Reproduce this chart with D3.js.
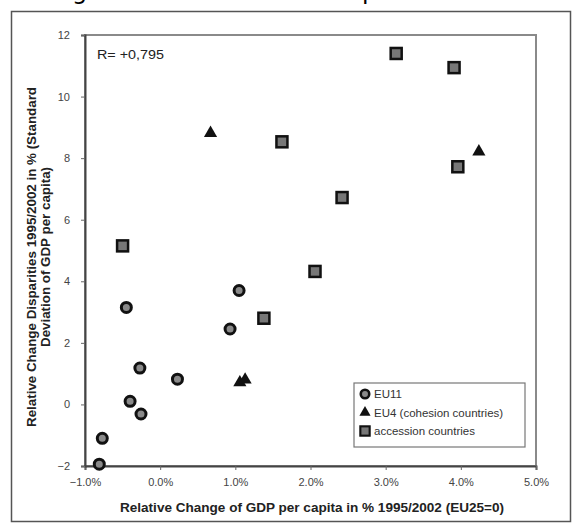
<!DOCTYPE html>
<html>
<head>
<meta charset="utf-8">
<script src="https://cdn.jsdelivr.net/npm/d3@7"></script>
<style>
  body { margin: 0; background: #fff; }
  svg { display: block; font-family: "Liberation Sans", Arial, sans-serif; }
</style>
</head>
<body>
<svg id="chart" viewBox="0 0 574 524" width="574" height="524"></svg>
<script>
// values
const eu11X = [-0.81, -0.77, -0.45, -0.40, -0.27, -0.255, 0.23, 0.93, 1.05]
const eu11Y = [-1.94, -1.10, 3.15, 0.10, 1.18, -0.31, 0.82, 2.45, 3.70]
const eu4X = [0.67, 1.06, 1.13, 4.24]
const eu4Y = [8.81, 0.71, 0.80, 8.21]
const accX = [-0.50, 1.38, 1.62, 2.06, 2.42, 3.14, 3.91, 3.96]
const accY = [5.15, 2.80, 8.53, 4.32, 6.72, 11.40, 10.94, 7.72]

const xTicks = [-1, 0, 1, 2, 3, 4, 5]
const yTicks = [-2, 0, 2, 4, 6, 8, 10, 12]
const legendLabels = ["EU11", "EU4 (cohesion countries)", "accession countries"]
const rLabel = "R= +0,795"
const xTitle = "Relative Change of GDP per capita in % 1995/2002 (EU25=0)"
const yTitle = ["Relative Change Disparities 1995/2002 in % (Standard", "Deviation of GDP per capita)"]

const svg = d3.select("#chart")

// cut-off heading above the chart (only descenders visible in the scan)
svg.append("text").attr("x", 72).attr("y", -1).attr("font-size", 24).attr("font-family", "DejaVu Sans").text("g")
svg.append("text").attr("x", 362).attr("y", -1).attr("font-size", 24).attr("font-family", "DejaVu Sans").text("p")

// outer chart frame
svg.append("rect")
    .attr("x", 11.5).attr("y", 11.5)
    .attr("width", 559).attr("height", 510)
    .attr("fill", "#fff")
    .attr("stroke", "#555")
    .attr("stroke-width", 1.5)

const x = d3.scaleLinear().domain([-1, 5]).range([85, 536])
const y = d3.scaleLinear().domain([-2, 12]).range([466, 35])

// plot area border (top/right grey)
svg.append("rect")
    .attr("x", x(-1)).attr("y", y(12))
    .attr("width", x(5) - x(-1)).attr("height", y(-2) - y(12))
    .attr("fill", "none")
    .attr("stroke", "#8a8a8a")
    .attr("stroke-width", 2)

const fmtPct = d => d3.format(".1f")(d) + "%"

const xAxis = svg.append("g")
    .attr("transform", `translate(0,${y(-2)})`)
    .call(d3.axisBottom(x).tickValues(xTicks).tickSize(4).tickPadding(8).tickFormat(fmtPct))
const yAxis = svg.append("g")
    .attr("transform", `translate(${x(-1)},0)`)
    .call(d3.axisLeft(y).tickValues(yTicks).tickSize(4).tickPadding(11).tickFormat(d3.format("d")))

for (const ax of [xAxis, yAxis]) {
    ax.select(".domain").attr("stroke", "#444").attr("stroke-width", 2)
    ax.selectAll(".tick line").attr("stroke", "#666")
    ax.selectAll(".tick text").attr("font-size", 11).attr("fill", "#444")
        .attr("font-family", "Liberation Sans, Arial, sans-serif")
}

// axis titles
svg.append("text")
    .attr("x", 312).attr("y", 512)
    .attr("text-anchor", "middle")
    .attr("font-size", 12).attr("font-weight", "bold").attr("fill", "#222")
    .attr("textLength", 384).attr("lengthAdjust", "spacingAndGlyphs")
    .text(xTitle)

const yt = svg.append("text")
    .attr("transform", "translate(36,257) rotate(-90)")
    .attr("text-anchor", "middle")
    .attr("font-size", 12).attr("font-weight", "bold").attr("fill", "#222")
yt.selectAll("tspan").data(yTitle).enter().append("tspan")
    .attr("x", 0).attr("dy", (d, i) => i == 0 ? 0 : 14)
    .attr("textLength", (d, i) => i == 0 ? 340 : 180)
    .attr("lengthAdjust", "spacingAndGlyphs")
    .text(d => d)

svg.append("text")
    .attr("x", 97).attr("y", 59)
    .attr("font-size", 12).attr("fill", "#222")
    .attr("textLength", 67).attr("lengthAdjust", "spacingAndGlyphs")
    .text(rLabel)

// markers
const sym = {
    circle: (g) => g.append("circle").attr("r", 5).attr("fill", "#8a8a8a").attr("stroke", "#111").attr("stroke-width", 3),
    triangle: (g) => g.append("path").attr("d", d3.symbol(d3.symbolTriangle, 75)()).attr("fill", "#111"),
    square: (g) => g.append("rect").attr("x", -5.5).attr("y", -5.5).attr("width", 11).attr("height", 11)
        .attr("fill", "#777").attr("stroke", "#111").attr("stroke-width", 2.5)
}

function drawSeries(xs, ys, kind) {
    const pts = xs.map((v, i) => ({x: v, y: ys[i]}))
    const g = svg.append("g").selectAll("g")
        .data(pts)
        .enter()
        .append("g")
        .attr("transform", d => `translate(${x(d.x)},${y(d.y)})`)
    sym[kind](g)
}

drawSeries(eu11X, eu11Y, "circle")
drawSeries(eu4X, eu4Y, "triangle")
drawSeries(accX, accY, "square")

// legend
const leg = svg.append("g").attr("transform", "translate(354,383)")
leg.append("rect")
    .attr("width", 171).attr("height", 64)
    .attr("fill", "#fff").attr("stroke", "#777").attr("stroke-width", 1.2)
const kinds = ["circle", "triangle", "square"]
const items = leg.selectAll(".item")
    .data(legendLabels)
    .enter()
    .append("g")
    .attr("transform", (d, i) => `translate(11,${11 + i * 18.5})`)
items.each(function (d, i) {
    const g = d3.select(this).append("g").attr("transform", "scale(0.85)")
    sym[kinds[i]](g)
})
items.append("text")
    .attr("x", 9).attr("y", 4)
    .attr("font-size", 11.5).attr("fill", "#333")
    .text(d => d)
</script>
</body>
</html>
